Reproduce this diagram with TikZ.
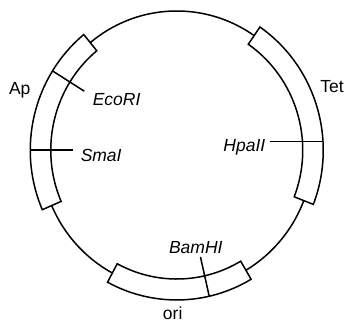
\documentclass[tikz,border=0pt]{standalone}
\usepackage{fontspec}
\setmainfont{Liberation Sans}
\begin{document}
\begin{tikzpicture}[x=1pt,y=1pt,line width=1.5pt,
 gene/.style={draw=black,fill=white},
 genename/.style={inner sep=0pt,font=\fontsize{17.5}{20}\selectfont},
 site/.style={inner sep=0pt,font=\fontsize{17.5}{20}\selectfont\itshape}]
 \useasboundingbox (0,0) rectangle (346,322);
 \begin{scope}[shift={(176.75,171.75)},yscale=1.022]
 \draw (0,0) circle (136.25);
 \foreach \a/\b in {129.4/203.4,-21.2/55.4,-118.2/-59.5}
  \draw[gene] (\a:126) arc[start angle=\a,end angle=\b,radius=126] -- (\b:146.5) arc[start angle=\b,end angle=\a,radius=146.5] -- cycle;
 \draw (148:146.5)--(148:109);
 \draw (180:146.5)--(180:104);
 \draw (146.5,8.4)--(93.3,8.4);
 \draw (-77.2:146.5)--(-77.2:107);
 \end{scope}
 \node[genename,anchor=base west] (ap) at (8.3,227.3) {Ap};
 \node[genename,anchor=base west] (tet) at (319.7,229.3) {Tet};
 \node[genename,anchor=base] (ori) at (172.7,3) {ori};
 \node[site,anchor=base west] (ecori) at (92,216) {EcoRI};
 \node[site,anchor=base west] (smai) at (80,160.3) {SmaI};
 \node[site,anchor=base east] (hpaii) at (266,170.3) {HpaII};
 \node[site,anchor=base] (bamhi) at (195.8,68.7) {BamHI};
\end{tikzpicture}
\end{document}
